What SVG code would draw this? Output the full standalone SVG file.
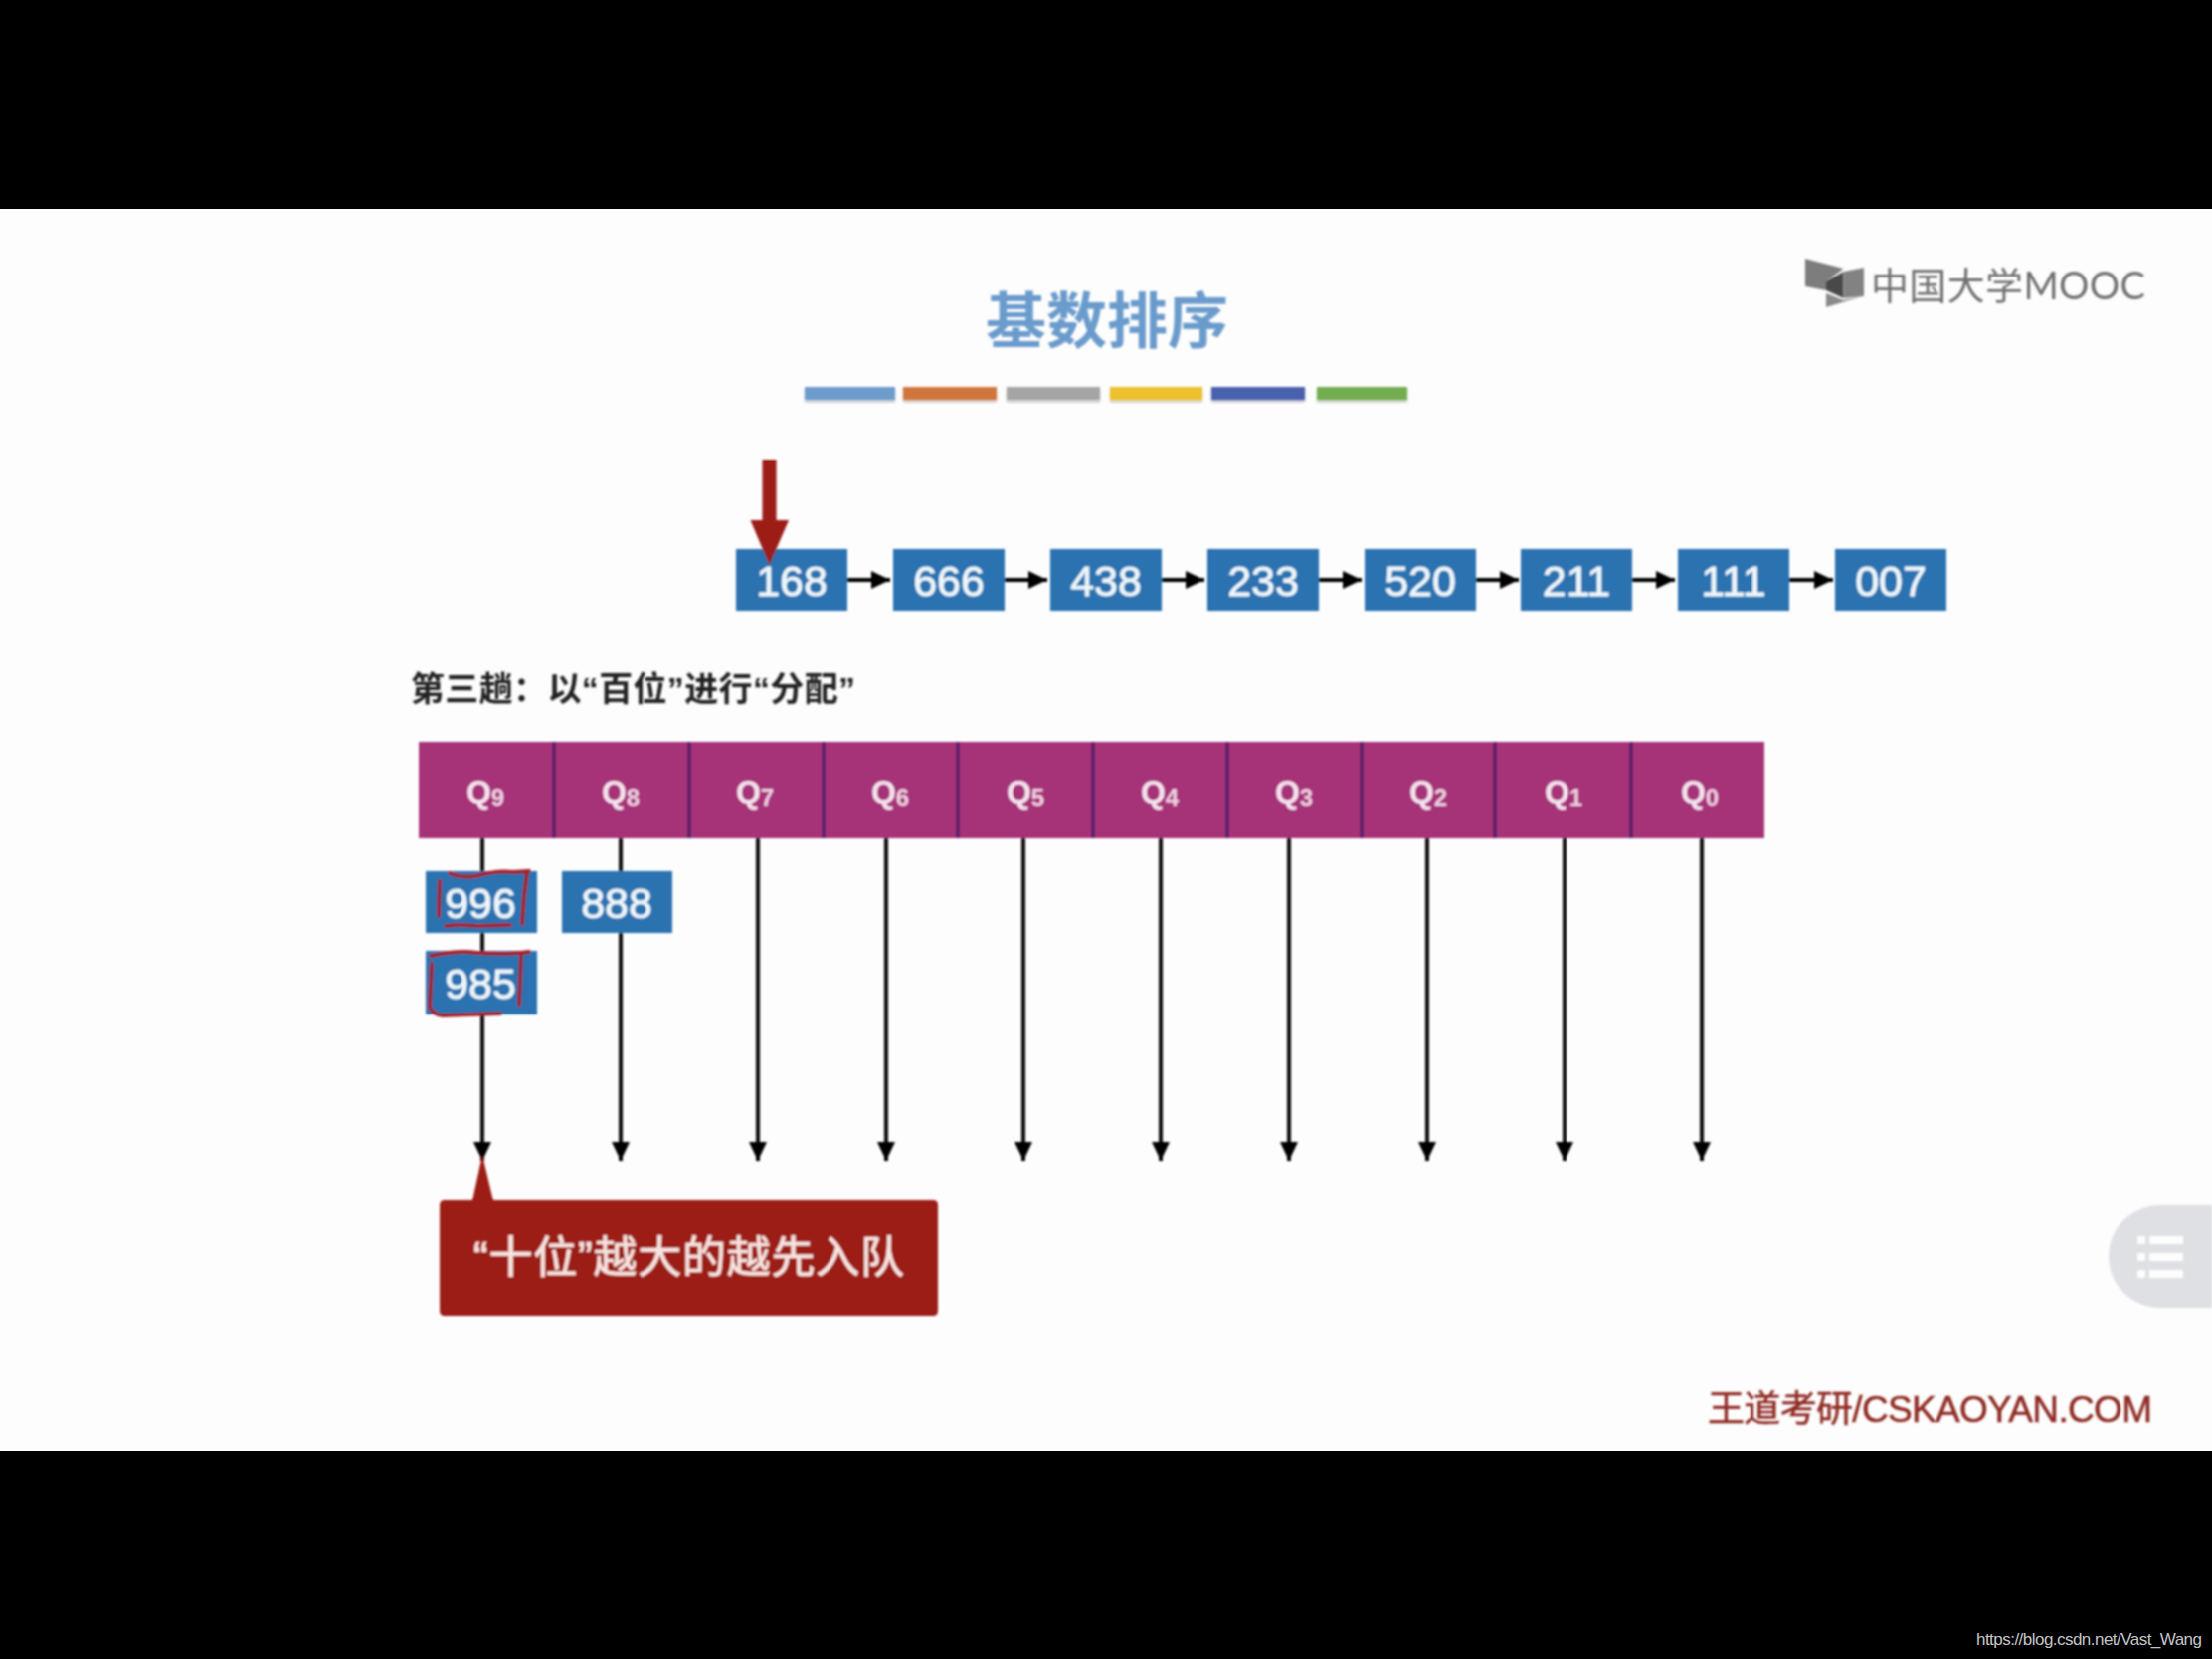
<svg xmlns="http://www.w3.org/2000/svg" width="2224" height="1668" viewBox="0 0 2224 1668">
<defs>
<style>
text{font-family:"Liberation Sans","Noto Sans CJK SC",sans-serif}
.box{fill:#2b72b0}
.num{fill:#eef7fb;font-size:43px;text-anchor:middle;stroke:#eef7fb;stroke-width:.8}
.q{fill:#a63278}
.qt{fill:#f6e3ef;font-size:32px;font-weight:bold;text-anchor:middle}
.qs{fill:#f0cfe2;font-size:24px;font-weight:bold}
.div{stroke:#4b1f66;stroke-width:3}
.link{stroke:#000;stroke-width:4;fill:none;marker-end:url(#h)}
.drop{stroke:#111;stroke-width:4;fill:none;marker-end:url(#v)}
.scr{stroke:#a3202c;stroke-width:4;fill:none;stroke-linecap:round;stroke-linejoin:round}
.bar{filter:url(#barshadow)}
</style>
<marker id="h" markerUnits="userSpaceOnUse" markerWidth="20" markerHeight="20" refX="19" refY="10" orient="auto"><path d="M0,1 L19,10 L0,19 Z" fill="#000"/></marker>
<marker id="v" markerUnits="userSpaceOnUse" markerWidth="20" markerHeight="20" refX="19" refY="10" orient="auto"><path d="M0,1 L19,10 L0,19 Z" fill="#000"/></marker>
<filter id="soft" x="-5%" y="-5%" width="110%" height="110%"><feGaussianBlur stdDeviation="0.9"/></filter>
<filter id="barshadow" x="-5%" y="-30%" width="110%" height="180%"><feDropShadow dx="0" dy="2" stdDeviation="1.200" flood-color="#000" flood-opacity=".3"/></filter>
</defs>
<rect width="2224" height="1668" fill="#000"/>
<rect y="210" width="2224" height="1249" fill="#fdfdfd"/>
<g filter="url(#soft)">
<g id="title"><text x="1113" y="345" font-size="61" font-weight="bold" fill="#6a9bcc" text-anchor="middle">基数排序</text></g>
<g id="color-bars">
<rect class="bar" x="809" y="389" width="91" height="13" fill="#6d9bcb"/>
<rect class="bar" x="908" y="389" width="94" height="13" fill="#d0763c"/>
<rect class="bar" x="1012" y="389" width="94" height="13" fill="#a5a5a5"/>
<rect class="bar" x="1116" y="389" width="93" height="13" fill="#ecc02f"/>
<rect class="bar" x="1218" y="389" width="94" height="13" fill="#4a60ae"/>
<rect class="bar" x="1324" y="389" width="91" height="13" fill="#72ad4f"/>
</g>
<g id="logo">
<path d="M1815,260 L1853.500,270 L1836,283 L1836,292 L1815,288 Z" fill="#7d7d7d"/>
<path d="M1836,283 L1853.500,273 L1853.500,300 L1836,292 Z" fill="#4a4a4a"/>
<path d="M1853.500,273 L1874,269 L1874,298 L1853.500,300 Z" fill="#828282"/>
<path d="M1836,295 L1853.500,302 L1873,298 L1836,309 Z" fill="#8a8a8a"/>
<text x="1881" y="301" font-size="38" fill="#6f6f6f" textLength="276" style="font-family:'Lato','Noto Sans CJK SC',sans-serif;font-weight:400">中国大学MOOC</text>
</g>
<g id="connectors">
<path class="link" d="M852,583 H895"/><path class="link" d="M1010,583 H1053"/><path class="link" d="M1168,583 H1211"/><path class="link" d="M1326,583 H1369"/><path class="link" d="M1484,583 H1527"/><path class="link" d="M1641,583 H1684"/><path class="link" d="M1799,583 H1843"/>
<path class="drop" d="M485,843 V1167"/><path class="drop" d="M624,843 V1167"/><path class="drop" d="M762,843 V1167"/><path class="drop" d="M891,843 V1167"/><path class="drop" d="M1029,843 V1167"/><path class="drop" d="M1167,843 V1167"/><path class="drop" d="M1296,843 V1167"/><path class="drop" d="M1435,843 V1167"/><path class="drop" d="M1573,843 V1167"/><path class="drop" d="M1711,843 V1167"/>
</g>
<g id="n168"><rect class="box" x="740" y="552" width="112" height="62"/><text class="num" x="796" y="599">168</text></g>
<g id="n666"><rect class="box" x="898" y="552" width="112" height="62"/><text class="num" x="954" y="599">666</text></g>
<g id="n438"><rect class="box" x="1056" y="552" width="112" height="62"/><text class="num" x="1112" y="599">438</text></g>
<g id="n233"><rect class="box" x="1214" y="552" width="112" height="62"/><text class="num" x="1270" y="599">233</text></g>
<g id="n520"><rect class="box" x="1372" y="552" width="112" height="62"/><text class="num" x="1428" y="599">520</text></g>
<g id="n211"><rect class="box" x="1529" y="552" width="112" height="62"/><text class="num" x="1585" y="599">211</text></g>
<g id="n111"><rect class="box" x="1687" y="552" width="112" height="62"/><text class="num" x="1743" y="599">111</text></g>
<g id="n007"><rect class="box" x="1845" y="552" width="112" height="62"/><text class="num" x="1901" y="599">007</text></g>
<g id="pointer"><path d="M766.500,462 H780.500 V523 H793 L773.500,568 L754.500,523 H766.500 Z" fill="#9c1b12"/></g>
<g id="pass-label"><text x="413" y="705" font-size="34" font-weight="bold" fill="#222" textLength="447">第三趟：以“百位”进行“分配”</text></g>
<g id="queues">
<rect class="q" x="421" y="746" width="1353" height="97"/>
<path class="div" d="M557,746 V843 M693,746 V843 M828,746 V843 M963,746 V843 M1099,746 V843 M1234,746 V843 M1369,746 V843 M1503,746 V843 M1640,746 V843"/>
<g id="q9"><text class="qt" x="488" y="807">Q<tspan class="qs" dy="3">9</tspan></text></g>
<g id="q8"><text class="qt" x="624" y="807">Q<tspan class="qs" dy="3">8</tspan></text></g>
<g id="q7"><text class="qt" x="759" y="807">Q<tspan class="qs" dy="3">7</tspan></text></g>
<g id="q6"><text class="qt" x="895" y="807">Q<tspan class="qs" dy="3">6</tspan></text></g>
<g id="q5"><text class="qt" x="1031" y="807">Q<tspan class="qs" dy="3">5</tspan></text></g>
<g id="q4"><text class="qt" x="1166" y="807">Q<tspan class="qs" dy="3">4</tspan></text></g>
<g id="q3"><text class="qt" x="1301" y="807">Q<tspan class="qs" dy="3">3</tspan></text></g>
<g id="q2"><text class="qt" x="1436" y="807">Q<tspan class="qs" dy="3">2</tspan></text></g>
<g id="q1"><text class="qt" x="1572" y="807">Q<tspan class="qs" dy="3">1</tspan></text></g>
<g id="q0"><text class="qt" x="1709" y="807">Q<tspan class="qs" dy="3">0</tspan></text></g>
</g>
<g id="n996"><rect class="box" x="428" y="876" width="112" height="62"/><text class="num" x="483" y="923">996</text>
<path class="scr" d="M442,886 L441,921 M452,878 Q462,883 478,881 Q500,875 516,877 L532,876 M530,877 L527,900 L525,929 M448,931 Q462,929 480,931 L513,930"/></g>
<g id="n888"><rect class="box" x="565" y="876" width="111" height="62"/><text class="num" x="620" y="923">888</text></g>
<g id="n985"><rect class="box" x="428" y="956" width="112" height="64"/><text class="num" x="483" y="1004">985</text>
<path class="scr" d="M433,961 Q460,955 480,958 Q510,960 532,957 M524,961 L522,1010 M434,969 L432,1012 Q435,1020 445,1021 L503,1019"/></g>
<g id="callout"><path d="M447,1207 H475 L485,1161 L496,1207 H938 Q943,1207 943,1212 V1318 Q943,1323 938,1323 H447 Q442,1323 442,1318 V1212 Q442,1207 447,1207 Z" fill="#9c1b12"/>
<text x="476" y="1280" font-size="44" fill="#f8e4e0" stroke="#f8e4e0" stroke-width=".7" textLength="433">“十位”越大的越先入队</text></g>
<g id="footer"><text x="1717" y="1430" font-size="37" fill="#8f2a24" stroke="#8f2a24" stroke-width=".5" textLength="447">王道考研/CSKAOYAN.COM</text></g>
<g id="menu-button"><path d="M2224,1212 H2172 A52,51.500 0 0 0 2172,1315 H2224 Z" fill="#dfe0e3"/>
<g fill="#fdfdfd"><rect x="2149" y="1243" width="8" height="8" rx="2"/><rect x="2161" y="1243" width="34" height="8" rx="1"/><rect x="2149" y="1260" width="8" height="8" rx="2"/><rect x="2161" y="1260" width="34" height="8" rx="1"/><rect x="2149" y="1277" width="8" height="8" rx="2"/><rect x="2161" y="1277" width="34" height="8" rx="1"/></g></g>
</g>
<g id="watermark"><text x="1987" y="1654" font-size="17" fill="#c4c4c4" textLength="227">https://blog.csdn.net/Vast_Wang</text></g>
</svg>
